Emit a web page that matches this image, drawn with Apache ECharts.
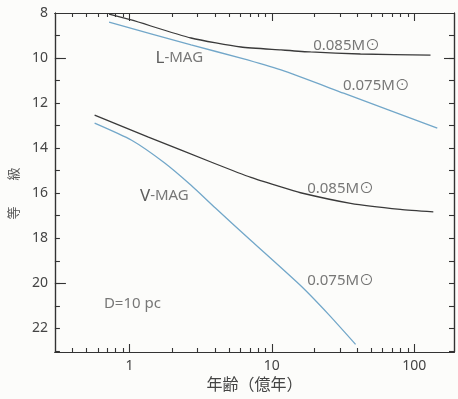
<!DOCTYPE html>
<html>
<head>
<meta charset="utf-8">
<script src="https://cdn.jsdelivr.net/npm/echarts@6/dist/echarts.min.js"></script>
<style>
  html, body { margin: 0; padding: 0; background: #fcfcfa; }
  #chart { width: 458px; height: 399px; }
</style>
</head>
<body>
<div id="chart"></div>
<script>
// age (100 Myr units), magnitude
const lMag085 = [[0.72, 8.05], [1.03, 8.31], [2.71, 9.11], [6.07, 9.51], [11.6, 9.64], [18.7, 9.73], [41.9, 9.82], [130, 9.87]]
const lMag075 = [[0.72, 8.4], [2.71, 9.42], [6.07, 10.0], [11.6, 10.53], [31.9, 11.56], [145, 13.11]]
const vMag085 = [[0.57, 12.53], [1.36, 13.51], [3.93, 14.67], [7.13, 15.3], [11, 15.68], [15.9, 15.98], [35.7, 16.45], [79.8, 16.72], [136, 16.83]]
const vMag075 = [[0.57, 12.89], [1.03, 13.64], [1.76, 14.65], [2.71, 15.65], [4.0, 16.65], [7.13, 18.1], [15.9, 20.1], [25, 21.38], [38.7, 22.71]]

const xMajor = [1, 10, 100]
const xMinor = [0.4, 0.5, 0.6, 0.7, 0.8, 0.9, 2, 3, 4, 5, 6, 7, 8, 9, 20, 30, 40, 50, 60, 70, 80, 90]
const yLabels = [8, 10, 12, 14, 16, 18, 20, 22]
const yTicks = [9, 10, 11, 12, 13, 14, 15, 16, 17, 18, 19, 20, 21, 22, 23]
const yLongLeft = [10, 20]
const yLongRight = [10]

const notes = [
  { name: "{b|L}-MAG", value: [2.24, 10.0] },
  { name: "{b|V}-MAG", value: [1.76, 16.13] },
  { name: "0.085M⊙", value: [33.5, 9.47] },
  { name: "0.075M⊙", value: [54.2, 11.24] },
  { name: "0.085M⊙", value: [30.4, 15.82] },
  { name: "0.075M⊙", value: [30.4, 19.87] },
  { name: "D=10 pc", value: [1.05, 20.89] },
]

const FONT = "'Noto Sans', 'Noto Sans CJK JP', sans-serif"
const LINE = "#333"
const xMin = 0.3, xMax = 190
const yMin = 8, yMax = 23.05

function xAxisOf(position, ticks, len, extra) {
  return Object.assign({
    type: "log", logBase: 10, position, min: xMin, max: xMax,
    axisLine: { show: true, lineStyle: { color: LINE, width: 1.2 } },
    axisTick: { show: true, inside: true, length: len, customValues: ticks, lineStyle: { color: LINE, width: 1.1 } },
    axisLabel: { show: false },
    splitLine: { show: false },
  }, extra || {})
}

function yAxisOf(position, ticks, len, extra) {
  return Object.assign({
    type: "value", position, inverse: true, min: yMin, max: yMax,
    axisLine: { show: true, lineStyle: { color: LINE, width: 1.2 } },
    axisTick: { show: true, inside: true, length: len, customValues: ticks, lineStyle: { color: LINE, width: 1.1 } },
    axisLabel: { show: false },
    splitLine: { show: false },
  }, extra || {})
}

const chart = echarts.init(document.getElementById("chart"))

function curve(data, color) {
  return {
    type: "line", xAxisIndex: 0, yAxisIndex: 0, data, smooth: 0.2,
    symbol: "none", lineStyle: { color, width: 1.3 },
  }
}

chart.setOption({
  backgroundColor: "#fcfcfa",
  animation: false,
  grid: { left: 53, top: 13, right: 4, bottom: 47 },
  xAxis: [
    xAxisOf("bottom", xMajor, 8, {
      axisLabel: { show: true, customValues: xMajor, margin: 7, color: "#444", fontSize: 14, fontFamily: FONT },
      name: "年齢（億年）", nameLocation: "middle", nameGap: 22,
      nameTextStyle: { color: "#444", fontSize: 16, fontFamily: FONT, verticalAlign: "top" },
    }),
    xAxisOf("bottom", xMinor, 4),
    xAxisOf("top", xMajor, 8),
    xAxisOf("top", xMinor, 4),
  ],
  yAxis: [
    yAxisOf("left", yTicks, 5, {
      axisLabel: { show: true, customValues: yLabels, margin: 7, color: "#444", fontSize: 14, fontFamily: FONT },
      name: "等　　級", nameLocation: "middle", nameGap: 27, nameRotate: 90,
      nameTextStyle: { color: "#555", fontSize: 13, fontFamily: FONT, padding: [0, 22, 0, 0] },
    }),
    yAxisOf("left", yLongLeft, 11),
    yAxisOf("right", yTicks, 5),
    yAxisOf("right", yLongRight, 10),
  ],
  series: [
    curve(lMag085, "#3a3a3a"),
    curve(lMag075, "#72a7c9"),
    curve(vMag085, "#3a3a3a"),
    curve(vMag075, "#72a7c9"),
    {
      type: "scatter", xAxisIndex: 0, yAxisIndex: 0, symbolSize: 0, silent: true,
      data: notes,
      label: {
        show: true, position: "inside", formatter: p => p.name,
        fontFamily: FONT, color: "#555", fontSize: 15,
        rich: { b: { fontFamily: FONT, fontSize: 17, color: "#333" } },
      },
      labelLayout: { hideOverlap: false },
    },
  ],
})
</script>
</body>
</html>
